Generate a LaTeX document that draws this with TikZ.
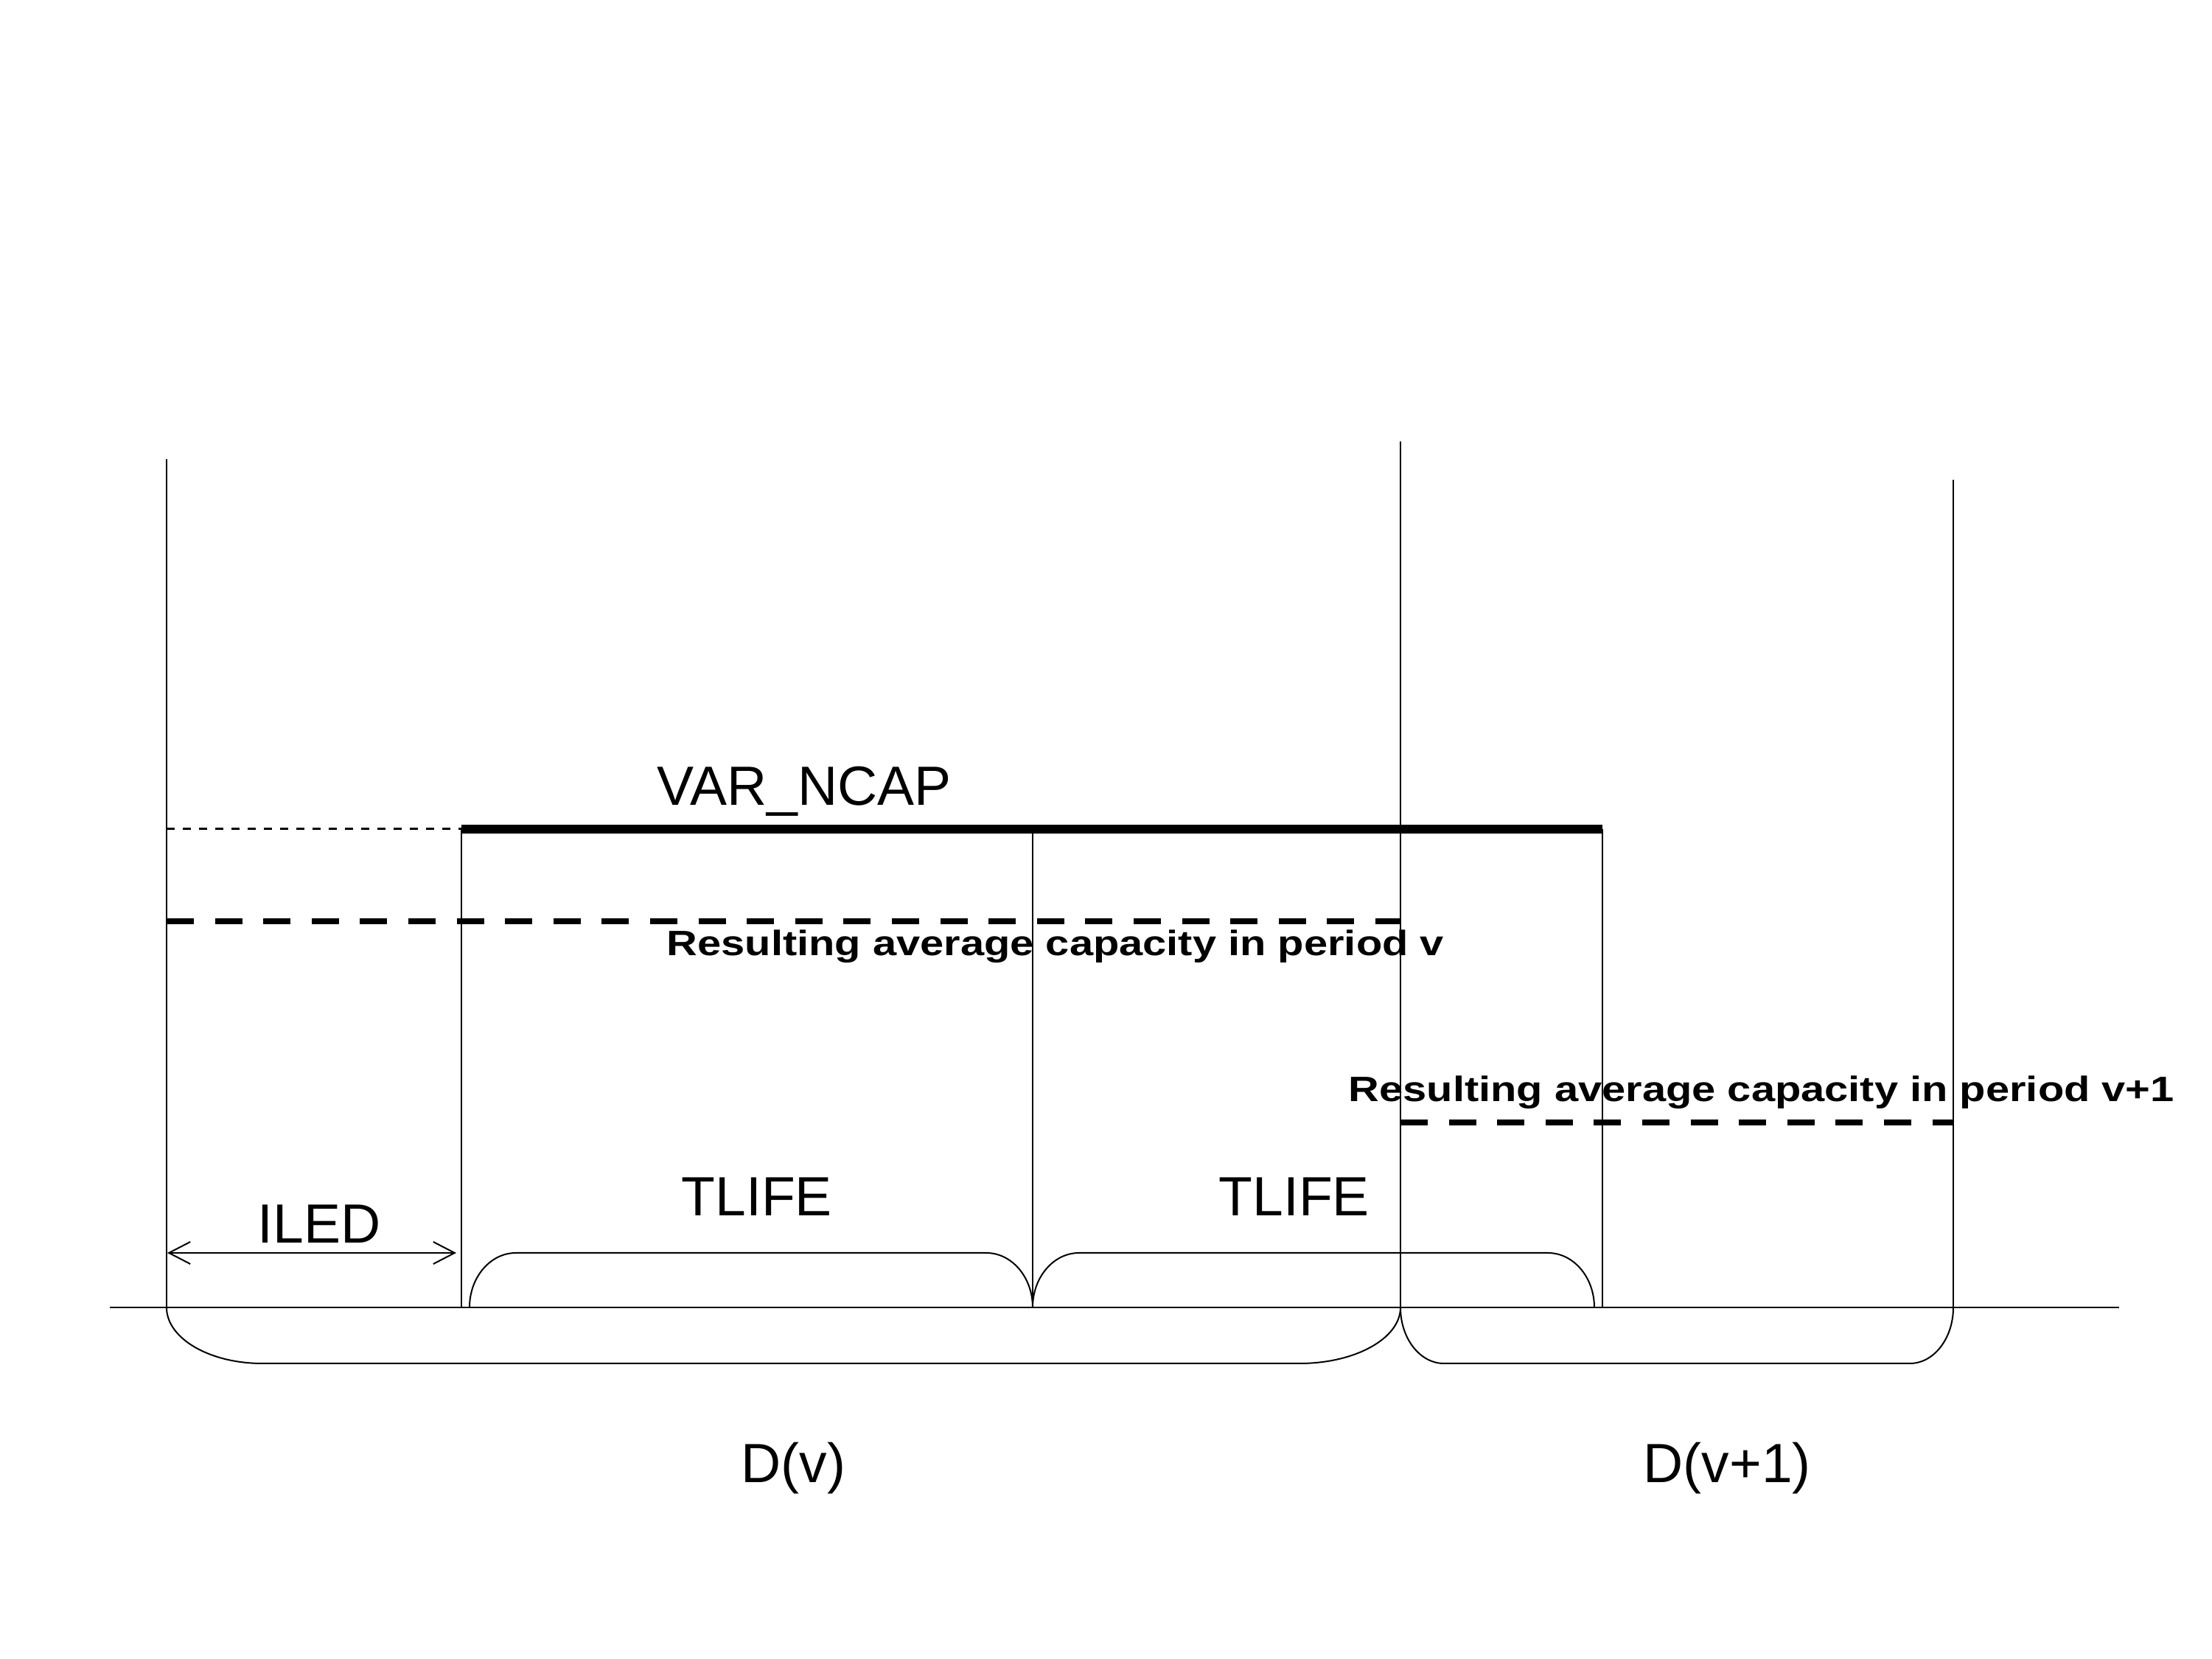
\documentclass[tikz,border=0pt]{standalone}
\usepackage{fontspec}
\newfontfamily\arialfont{Liberation Sans}
\usetikzlibrary{arrows.meta}
\tikzset{
  thinline/.style={line width=0.57pt},
  thickline/.style={line width=3.4pt},
  dotline/.style={line width=0.85pt, dash pattern=on 0.11cm off 0.11cm},
  avgline/.style={line width=2.4pt, dash pattern=on 0.37cm off 0.286cm},
  bigtext/.style={inner sep=0pt, anchor=base west, font=\arialfont\fontsize{21.34pt}{25pt}\selectfont},
  boldtext/.style={inner sep=0pt, anchor=base west, font=\arialfont\bfseries\fontsize{13.6pt}{16pt}\selectfont},
  dimarrow/.style={thinline, {Straight Barb[length=0.29cm,width=0.3cm]}-{Straight Barb[length=0.29cm,width=0.3cm]}}
}
\begin{document}
\begin{tikzpicture}
\useasboundingbox (0,0) rectangle (30.01,22.51);
% key coordinates
\coordinate (Atop) at (2.26,16.28);
\coordinate (Abot) at (2.26,4.77);
\coordinate (Btop) at (6.26,11.26);
\coordinate (Bbot) at (6.26,4.77);
\coordinate (Ctop) at (14.01,11.26);
\coordinate (Cbot) at (14.01,4.77);
\coordinate (Dtop) at (19.00,16.52);
\coordinate (Dbot) at (19.00,4.77);
\coordinate (Etop) at (21.74,11.26);
\coordinate (Ebot) at (21.74,4.77);
\coordinate (Ftop) at (26.50,16.00);
\coordinate (Fbot) at (26.50,4.77);
\coordinate (axL) at (1.49,4.77);
\coordinate (axR) at (28.75,4.77);
\coordinate (capL) at (2.26,11.26);
\coordinate (avgL) at (2.26,10.01);
\coordinate (avgR) at (19.00,10.01);
\coordinate (avg2L) at (19.00,7.28);
\coordinate (avg2R) at (26.50,7.28);
\coordinate (iledL) at (2.27,5.51);
\coordinate (iledR) at (6.19,5.51);

% axis and verticals
\draw[thinline] (axL) -- (axR);
\draw[thinline] (Atop) -- (Abot);
\draw[thinline] (Btop) -- (Bbot);
\draw[thinline] (Ctop) -- (Cbot);
\draw[thinline] (Dtop) -- (Dbot);
\draw[thinline] (Etop) -- (Ebot);
\draw[thinline] (Ftop) -- (Fbot);

% capacity lines
\draw[dotline] (capL) -- (Btop);
\draw[thickline] (Btop) -- (Etop);
\draw[avgline] (avgL) -- (avgR);
\draw[avgline] (avg2L) -- (avg2R);

% ILED dimension
\draw[dimarrow] (iledL) -- (iledR);

% TLIFE braces (above axis)
\draw[thinline] (6.37,4.77) arc[start angle=180,end angle=90,x radius=0.63,y radius=0.74]
  -- (13.38,5.51) arc[start angle=90,end angle=0,x radius=0.63,y radius=0.74];
\draw[thinline] (Cbot) arc[start angle=180,end angle=90,x radius=0.63,y radius=0.74]
  -- (21.00,5.51) arc[start angle=90,end angle=0,x radius=0.63,y radius=0.74];

% D braces (below axis)
\draw[thinline] (Abot) arc[start angle=180,end angle=270,x radius=1.3,y radius=0.76]
  -- (17.63,4.01) arc[start angle=270,end angle=360,x radius=1.37,y radius=0.76];
\draw[thinline] (Dbot) arc[start angle=180,end angle=270,x radius=0.59,y radius=0.76]
  -- (25.91,4.01) arc[start angle=270,end angle=360,x radius=0.59,y radius=0.76];

% labels
\node[bigtext] (varncap) at (8.91,11.58) {VAR\_NCAP};
\node[boldtext] (res1) at (9.04,9.54) {\scalebox{1.21}[1]{Resulting average capacity in period v}};
\node[boldtext] (res2) at (18.29,7.56) {\scalebox{1.21}[1]{Resulting average capacity in period v+1}};
\node[bigtext] (iled) at (3.49,5.64) {ILED};
\node[bigtext] (tlife1) at (9.24,6.01) {TLIFE};
\node[bigtext] (tlife2) at (16.53,6.01) {TLIFE};
\node[bigtext] (dv) at (10.05,2.39) {D(v)};
\node[bigtext] (dv1) at (22.29,2.39) {D(v+1)};
\end{tikzpicture}
\end{document}
